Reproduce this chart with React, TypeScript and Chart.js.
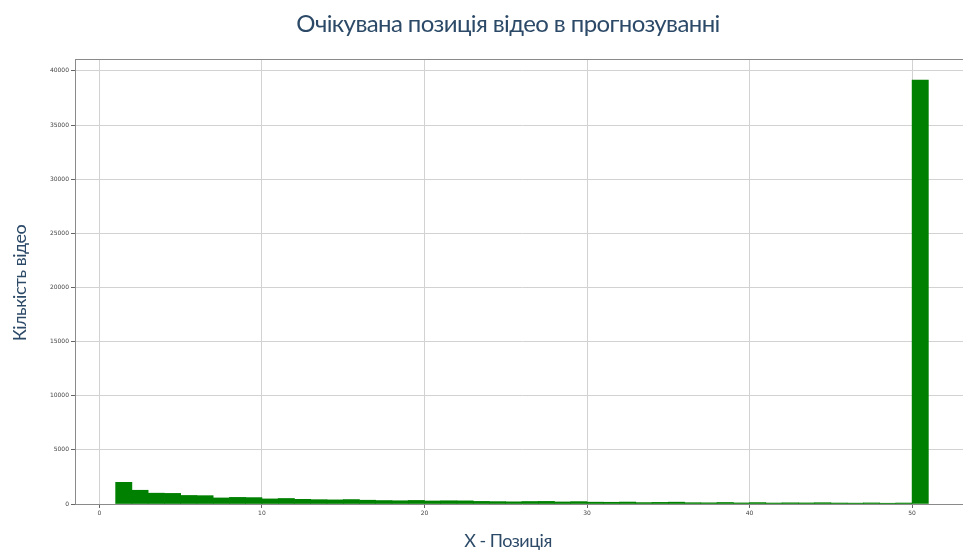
import React, { useEffect, useRef } from "react";
import { Chart, registerables } from "chart.js";

Chart.register(...registerables);

const chartTitle = "Очікувана позиція відео в прогнозуванні";
const xTitle = "X - Позиція";
const yTitle = "Кількість відео";

const binStarts = [
  1, 2, 3, 4, 5, 6, 7, 8, 9, 10,
  11, 12, 13, 14, 15, 16, 17, 18, 19, 20,
  21, 22, 23, 24, 25, 26, 27, 28, 29, 30,
  31, 32, 33, 34, 35, 36, 37, 38, 39, 40,
  41, 42, 43, 44, 45, 46, 47, 48, 49, 50,
];
const counts = [
  2000, 1270, 1000, 980, 790, 770, 560, 610, 590, 470,
  510, 430, 400, 380, 410, 350, 320, 300, 330, 280,
  300, 290, 240, 220, 200, 230, 240, 190, 220, 170,
  160, 180, 130, 150, 170, 120, 110, 140, 100, 130,
  90, 110, 100, 120, 90, 80, 100, 70, 90, 39150,
];
const xTicks = [0, 10, 20, 30, 40, 50];
const yTicks = [0, 5000, 10000, 15000, 20000, 25000, 30000, 35000, 40000];

const TITLE_COLOR = "#2c4a68";

export default function App() {
  const canvasRef = useRef<HTMLCanvasElement | null>(null);

  useEffect(() => {
    const canvas = canvasRef.current;
    if (!canvas) return;

    const textPlugin = {
      id: "textPlugin",
      afterDraw(chart: any) {
        const ctx = chart.ctx;
        const area = chart.chartArea;
        ctx.save();
        // top spine
        ctx.strokeStyle = "#8a8a8a";
        ctx.lineWidth = 1;
        ctx.beginPath();
        ctx.moveTo(area.left, area.top + 0.5);
        ctx.lineTo(area.right, area.top + 0.5);
        ctx.stroke();
        // titles
        ctx.fillStyle = TITLE_COLOR;
        ctx.textAlign = "center";
        ctx.textBaseline = "middle";
        (ctx as any).letterSpacing = "-0.6px";
        ctx.font = "24px Lato";
        ctx.fillText(chartTitle, 508, 24);
        (ctx as any).letterSpacing = "-0.5px";
        ctx.font = "18px Lato";
        ctx.fillText(xTitle, 508, 541);
        ctx.translate(20, 283);
        ctx.rotate(-Math.PI / 2);
        ctx.fillText(yTitle, 0, 0);
        ctx.restore();
      },
    };

    const chart = new Chart(canvas, {
      type: "bar",
      data: {
        datasets: [
          {
            data: binStarts.map((b, i) => ({ x: b + 0.5, y: counts[i] })),
            backgroundColor: "#008000",
            borderWidth: 0,
            barPercentage: 1,
            categoryPercentage: 1,
          },
        ],
      },
      options: {
        animation: false,
        responsive: false,
        maintainAspectRatio: false,
        layout: { padding: { top: 59, left: 0, right: 6, bottom: 0 } },
        plugins: {
          legend: { display: false },
          title: { display: false },
          tooltip: { enabled: false },
        },
        scales: {
          x: {
            type: "linear",
            offset: false,
            min: -1.5,
            max: 53.5,
            afterBuildTicks: (scale: any) => {
              scale.ticks = xTicks.map((v) => ({ value: v }));
            },
            afterFit: (scale: any) => {
              scale.height = 46;
            },
            ticks: {
              font: { size: 6, family: "DejaVu Sans" },
              color: "#444",
              padding: 2,
              maxRotation: 0,
              callback: (v: any) => String(v),
            },
            grid: {
              offset: false,
              color: "#d2d2d2",
              lineWidth: 1,
              tickLength: 4,
              tickColor: "#666",
            },
            border: { color: "#8a8a8a", width: 1 },
          },
          y: {
            type: "linear",
            min: 0,
            max: 41100,
            afterBuildTicks: (scale: any) => {
              scale.ticks = yTicks.map((v) => ({ value: v }));
            },
            afterFit: (scale: any) => {
              scale.width = 75;
            },
            ticks: {
              font: { size: 6, family: "DejaVu Sans" },
              color: "#444",
              padding: 2,
              callback: (v: any) => String(v),
            },
            grid: {
              color: "#d2d2d2",
              lineWidth: 1,
              tickLength: 4,
              tickColor: "#666",
            },
            border: { color: "#8a8a8a", width: 1 },
          },
        },
      },
      plugins: [textPlugin],
    });

    return () => chart.destroy();
  }, []);

  return (
    <div
      style={{
        position: "absolute",
        left: 0,
        top: 0,
        width: 963,
        height: 550,
        overflow: "hidden",
        background: "#fff",
      }}
    >
      <canvas ref={canvasRef} width={975} height={550} style={{ width: 975, height: 550, display: "block" }} />
    </div>
  );
}
